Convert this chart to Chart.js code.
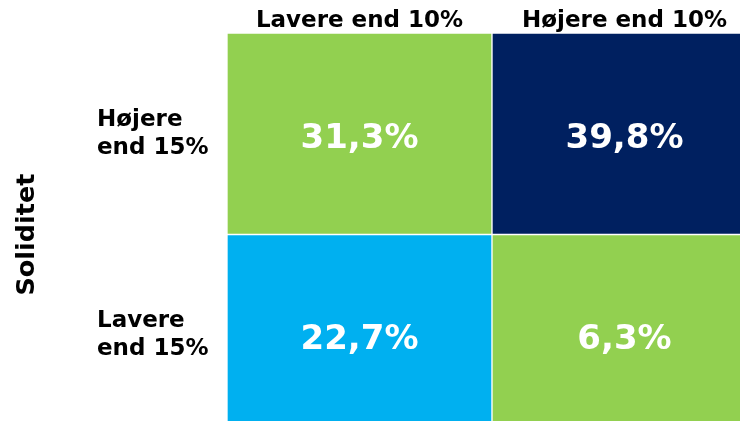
<!DOCTYPE html>
<html>
<head>
<meta charset="utf-8">
<script src="https://cdn.jsdelivr.net/npm/chart.js"></script>
<style>
  html, body { margin: 0; padding: 0; background: #fff; overflow: hidden; }
  #wrap { width: 757px; height: 436px; position: relative; }
</style>
</head>
<body>
<div id="wrap">
  <canvas id="matrix"></canvas>
</div>
<script>
// kolonner (egenkapitalforrentning) og rækker (soliditet)
const columns = ['Lavere end 10%', 'Højere end 10%'];
const rowLabels = [['Højere', 'end 15%'], ['Lavere', 'end 15%']];
const axisTitle = 'Soliditet';

// andele i pct. pr. celle
const topRow = [31.3, 39.8];     // Højere end 15%
const bottomRow = [22.7, 6.3];   // Lavere end 15%

const topColors = ['#92D050', '#002060'];
const bottomColors = ['#00B0F0', '#92D050'];

const FONT = "'DejaVu Sans', Verdana, sans-serif";

function fmt(v) {
    return v.toFixed(1).replace('.', ',') + '%';
}

// skriver procenttallet midt i hver celle
const cellText = {
    id: 'cellText',
    afterDatasetsDraw(chart) {
        const ctx = chart.ctx;
        ctx.save();
        ctx.fillStyle = '#fff';
        ctx.font = 'bold 34px ' + FONT;
        ctx.textAlign = 'center';
        ctx.textBaseline = 'alphabetic';
        chart.data.datasets.forEach((ds, i) => {
            chart.getDatasetMeta(i).data.forEach((bar, j) => {
                const mid = (bar.y + bar.base) / 2;
                ctx.fillText(fmt(ds.values[j]), bar.x, mid + 14);
            });
        });
        ctx.restore();
    }
};

new Chart(document.getElementById('matrix'), {
    type: 'bar',
    data: {
        labels: columns,
        datasets: [
            {
                label: 'Lavere end 15%',
                values: bottomRow,
                data: bottomRow.map(() => 1),
                backgroundColor: bottomColors,
                borderColor: '#fff',
                borderWidth: 1,
                borderSkipped: false
            },
            {
                label: 'Højere end 15%',
                values: topRow,
                data: topRow.map(() => 1),
                backgroundColor: topColors,
                borderColor: '#fff',
                borderWidth: 1,
                borderSkipped: false
            }
        ]
    },
    options: {
        responsive: true,
        maintainAspectRatio: false,
        animation: false,
        layout: { padding: 0 },
        categoryPercentage: 1,
        barPercentage: 1,
        plugins: {
            legend: { display: false },
            tooltip: { enabled: false }
        },
        scales: {
            x: {
                position: 'top',
                stacked: true,
                grid: { display: false, drawTicks: false },
                border: { display: false },
                ticks: {
                    color: '#000',
                    padding: -2,
                    font: { family: FONT, size: 23, weight: 'bold' }
                },
                afterFit: s => { s.height = 33; }
            },
            y: {
                stacked: true,
                min: 0,
                max: 2,
                display: false
            },
            yLab: {
                type: 'category',
                position: 'left',
                labels: rowLabels,
                offset: true,
                weight: 1,
                grid: { display: false, drawTicks: false },
                border: { display: false },
                ticks: {
                    color: '#000',
                    crossAlign: 'far',
                    autoSkip: false,
                    font: { family: FONT, size: 23, weight: 'bold', lineHeight: 1.2 }
                },
                afterFit: s => {
                    s.width = 130;
                    s.paddingTop = 0;
                    s.paddingBottom = 0;
                }
            },
            yTitle: {
                type: 'linear',
                position: 'left',
                weight: 2,
                grid: { display: false },
                border: { display: false },
                ticks: { display: false },
                title: {
                    display: true,
                    text: axisTitle,
                    color: '#000',
                    padding: { top: 12, bottom: 0 },
                    font: { family: FONT, size: 25.5, weight: 'bold' }
                },
                afterFit: s => {
                    s.width = 97;
                    s.paddingTop = 0;
                    s.paddingBottom = 0;
                }
            }
        }
    },
    plugins: [cellText]
});
</script>
</body>
</html>
